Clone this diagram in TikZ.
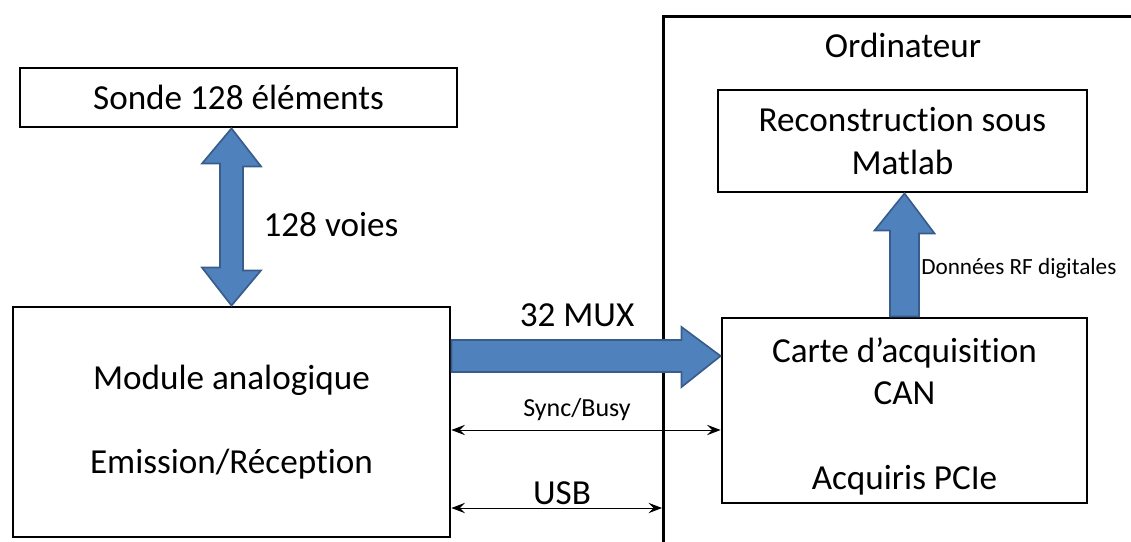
\documentclass[tikz,border=0pt]{standalone}
\usepackage{fontspec}
\setmainfont{Carlito}[Ligatures=CommonOff]
\usetikzlibrary{positioning,calc,arrows.meta}

\definecolor{arrowfill}{RGB}{79,129,189}
\definecolor{arrowline}{RGB}{56,93,138}

\tikzset{
  box/.style={draw, line width=2pt, align=center, inner sep=0pt,
    font=\fontsize{25}{30}\selectfont},
  big/.style={font=\fontsize{25}{30}\selectfont, inner sep=0pt},
  small/.style={font=\fontsize{18.5}{22}\selectfont, inner sep=0pt},
  tiny/.style={font=\fontsize{16.5}{20}\selectfont, inner sep=0pt},
  fatarrow/.style={fill=arrowfill, draw=arrowline, line width=1.2pt},
  link/.style={{Stealth[length=3.4mm,width=2.6mm,inset=1.3mm]}-{Stealth[length=3.4mm,width=2.6mm,inset=1.3mm]},
    line width=0.6pt}
}

\begin{document}
\begin{tikzpicture}[x=0.025cm, y=-0.025cm]
\useasboundingbox (0,0) rectangle (1131,541);
\clip (0,0) rectangle (1131,541);

% cadre ordinateur
\node[draw, line width=2pt, minimum width=12.5cm, minimum height=14cm, anchor=north west]
  (pc) at (662,15) {};
\node[big] (pctitle) at (903,45) {Ordinateur};

% boites
\node[box, minimum width=10.925cm, minimum height=1.475cm] (sonde) at (238.5,97.5) {Sonde 128 éléments};
\node[box, minimum width=10.925cm, minimum height=5.75cm] (module) at (231.5,422)
  {Module analogique\\[30pt]Emission/Réception};
\node[box, minimum width=9.225cm, minimum height=2.55cm] (recon) at (902.5,141)
  {Reconstruction sous\\Matlab};
\node[box, minimum width=9.125cm, minimum height=4.625cm] (carte) at (904.5,410.5)
  {\\[-4pt]Carte d’acquisition\\CAN\\[30pt]Acquiris PCIe};

% fleches larges
\draw[fatarrow] (module.north |- sonde.south) -- ++(29.5,38) -- ++(-18,0) -- ++(0,104)
  -- ++(18,0) -- (module.north) -- ++(-29.5,-38) -- ++(18,0) -- ++(0,-104) -- ++(-18,0) -- cycle;

\coordinate (mux) at (0,356);
\path (module.east |- mux) coordinate (muxa) (carte.west |- mux) coordinate (muxb);
\draw[fatarrow] ($(muxa)+(0,-16)$) -- ($(muxb)+(-39,-16)$) -- ++(0,-13) -- (muxb)
  -- ++(-39,31) -- ++(0,-15) -- ($(muxa)+(0,16)$) -- cycle;

\draw[fatarrow] ($(carte.north)+(-14.5,0)$) -- ++(0,-86) -- ++(-15.5,0)
  -- (carte.north |- recon.south) -- ++(30,40) -- ++(-15.5,0) -- ($(carte.north)+(14.5,0)$) -- cycle;

% liaisons
\coordinate (sync) at (0,430);
\coordinate (usb) at (0,508);
\draw[link] (module.east |- sync) -- (carte.west |- sync);
\draw[link] (module.east |- usb) -- (pc.west |- usb);

% etiquettes
\node[big] (voies) at (331,225) {128 voies};
\node[big] (muxlab) at (577,315) {32 MUX};
\node[small] (synclab) at (577,410) {Sync/Busy};
\node[big] (usblab) at (562,493) {USB};
\node[tiny, anchor=west] (rflab) at (921,268) {Données RF digitales};

\end{tikzpicture}
\end{document}
